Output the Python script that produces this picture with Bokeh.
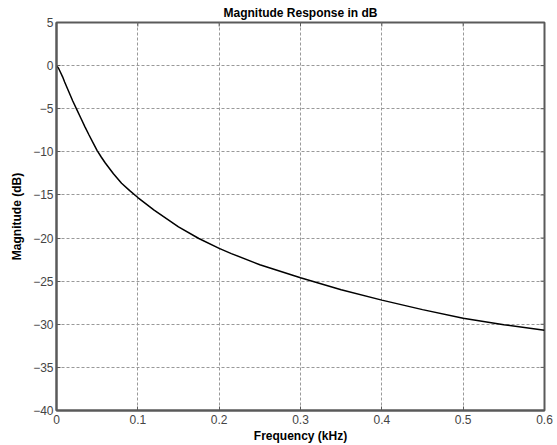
import math
from bokeh.plotting import figure
from bokeh.models import FixedTicker, Range1d
from bokeh.embed import file_html
from bokeh.resources import INLINE

freq_khz = [0, 0.0025, 0.005, 0.0075, 0.01, 0.015, 0.02, 0.025, 0.03, 0.035,
            0.04, 0.045, 0.05, 0.055, 0.06, 0.07, 0.08, 0.09, 0.1, 0.12, 0.15,
            0.175, 0.2, 0.215, 0.25, 0.3, 0.35, 0.4, 0.45, 0.5, 0.55, 0.6]
mag_db = [0, -0.3, -0.8, -1.3, -1.9, -3.0, -4.1, -5.1, -6.1, -7.1,
          -8.05, -8.95, -9.85, -10.6, -11.3, -12.55, -13.65, -14.5, -15.3, -16.75,
          -18.7, -20.05, -21.2, -21.8, -23.1, -24.6, -26.0, -27.2, -28.3, -29.3,
          -30.05, -30.7]
x_ticks = [0, 0.1, 0.2, 0.3, 0.4, 0.5, 0.6]
y_ticks = [5, 0, -5, -10, -15, -20, -25, -30, -35, -40]

FONT = "Liberation Sans"
AX = "#5a5a5a"
X_MIN, X_MAX = 0, 0.6
Y_MIN, Y_MAX = -40, 5

p = figure(frame_width=488, frame_height=388, output_backend="svg",
           toolbar_location=None, x_range=Range1d(X_MIN, X_MAX),
           y_range=Range1d(Y_MIN, Y_MAX),
           min_border_left=56, min_border_right=13, min_border_top=22,
           min_border_bottom=35, background_fill_color="white",
           border_fill_color="white")

p.title.text = "Magnitude Response in dB"
p.title.align = "center"
p.title.text_font = FONT
p.title.text_font_size = "12px"
p.title.text_font_style = "bold"
p.title.text_color = "black"
p.title.standoff = 6
p.title.offset = 0

p.xgrid.ticker = FixedTicker(ticks=x_ticks)
p.ygrid.ticker = FixedTicker(ticks=y_ticks)
for g in [p.xgrid, p.ygrid]:
    g.grid_line_color = "#999999"
    g.grid_line_dash = "3 2"
    g.grid_line_width = 1

p.line(freq_khz, mag_db, line_color="black", line_width=1.5)

# inward tick marks on the top and right edges (box axes)
p.scatter(x_ticks, [Y_MAX] * len(x_ticks), marker="dash", size=8,
          angle=math.pi / 2, line_color=AX, line_width=1)
p.scatter([X_MAX] * len(y_ticks), y_ticks, marker="dash", size=8,
          line_color=AX, line_width=1)

xa = p.xaxis[0]
ya = p.yaxis[0]
for ax in [xa, ya]:
    ax.axis_line_color = AX
    ax.axis_line_width = 2
    ax.major_tick_line_color = AX
    ax.major_tick_in = 4
    ax.major_tick_out = 0
    ax.minor_tick_line_color = None
    ax.major_label_text_font = FONT
    ax.major_label_text_font_size = "12px"
    ax.major_label_text_color = "#444444"
    ax.axis_label_text_font = FONT
    ax.axis_label_text_font_size = "12px"
    ax.axis_label_text_font_style = "bold"
    ax.axis_label_text_color = "black"

xa.ticker = FixedTicker(ticks=x_ticks)
ya.ticker = FixedTicker(ticks=y_ticks)
xa.axis_label = "Frequency (kHz)"
ya.axis_label = "Magnitude (dB)"
xa.axis_label_standoff = 2
ya.axis_label_standoff = 6
xa.major_label_standoff = 4
ya.major_label_standoff = 3

p.outline_line_color = AX
p.outline_line_width = 2

out = file_html(p, INLINE)
open("out.html", "w").write(out)
